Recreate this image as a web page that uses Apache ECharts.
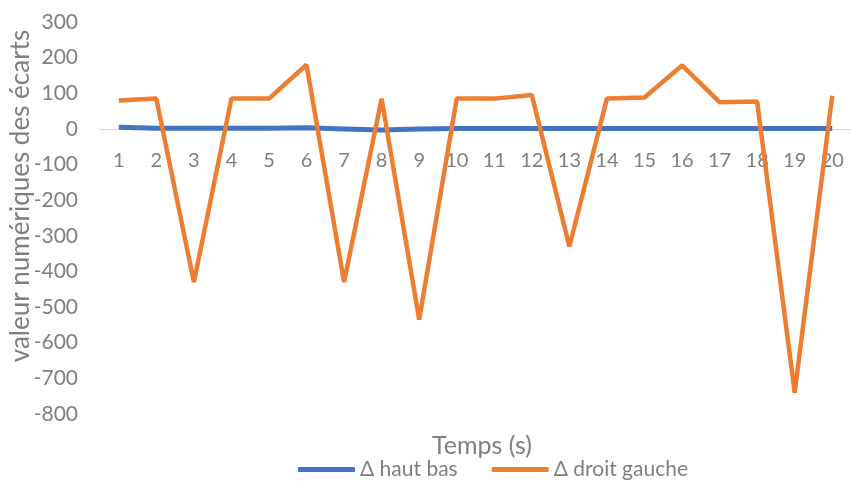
<!DOCTYPE html>
<html>
<head>
<meta charset="utf-8">
<script src="https://cdn.jsdelivr.net/npm/echarts@6/dist/echarts.min.js"></script>
<style>
  html,body{margin:0;padding:0;background:#fff;}
  #main{width:851px;height:485px;}
</style>
</head>
<body>
<div id="main"></div>
<script>
var temps = ['1','2','3','4','5','6','7','8','9','10','11','12','13','14','15','16','17','18','19','20'];
var hautBas = [5, 2, 2, 2, 2, 3, 0, -3, 0, 1, 1, 1, 1, 1, 1, 1, 1, 1, 1, 1];
var droitGauche = [80, 85, -430, 85, 85, 180, -430, 85, -535, 85, 85, 95, -330, 85, 88, 178, 75, 77, -740, 93];

var police = 'Lato, "Open Sans", sans-serif';
var gris = '#7f7f7f';

var myChart = echarts.init(document.getElementById('main'));
var option = {
  animation: false,
  title: {
    text: 'Temps (s)',
    left: 477,
    top: 428,
    textAlign: 'center',
    textStyle: {fontFamily: police, fontSize: 25, fontWeight: 'normal', color: gris}
  },
  // titre de l'axe vertical
  graphic: [{
    type: 'text',
    x: 21,
    y: 196,
    rotation: Math.PI / 2,
    style: {
      text: 'valeur numériques des écarts',
      fontFamily: police,
      fontSize: 26,
      fill: gris,
      align: 'center',
      verticalAlign: 'middle'
    }
  }],
  legend: {
    left: 298,
    top: 459,
    padding: 0,
    itemWidth: 57,
    itemHeight: 5,
    itemGap: 34,
    icon: 'roundRect',
    textStyle: {fontFamily: police, fontSize: 21, color: gris},
    data: [
      {name: 'Δ haut bas', itemStyle: {color: '#4472c4'}},
      {name: 'Δ droit gauche', itemStyle: {color: '#ed7d31'}}
    ]
  },
  grid: {left: 100, right: 0, top: 22, bottom: 71, outerBoundsMode: 'none'},
  xAxis: {
    type: 'category',
    data: temps,
    boundaryGap: true,
    position: 'bottom',
    offset: -285,
    axisLine: {onZero: false, lineStyle: {color: '#d9d9d9', width: 1}},
    axisTick: {show: false},
    axisLabel: {margin: 22, fontFamily: police, fontSize: 20, color: gris}
  },
  yAxis: {
    type: 'value',
    min: -800,
    max: 300,
    interval: 100,
    axisLine: {show: false},
    axisTick: {show: false},
    splitLine: {show: false},
    axisLabel: {margin: 22, fontFamily: police, fontSize: 21, color: gris}
  },
  series: [
    {
      name: 'Δ haut bas',
      type: 'line',
      data: hautBas,
      symbol: 'none',
      lineStyle: {color: '#4472c4', width: 5},
      itemStyle: {color: '#4472c4'}
    },
    {
      name: 'Δ droit gauche',
      type: 'line',
      data: droitGauche,
      symbol: 'none',
      lineStyle: {color: '#ed7d31', width: 4.5},
      itemStyle: {color: '#ed7d31'}
    }
  ]
};
myChart.setOption(option);
</script>
</body>
</html>
